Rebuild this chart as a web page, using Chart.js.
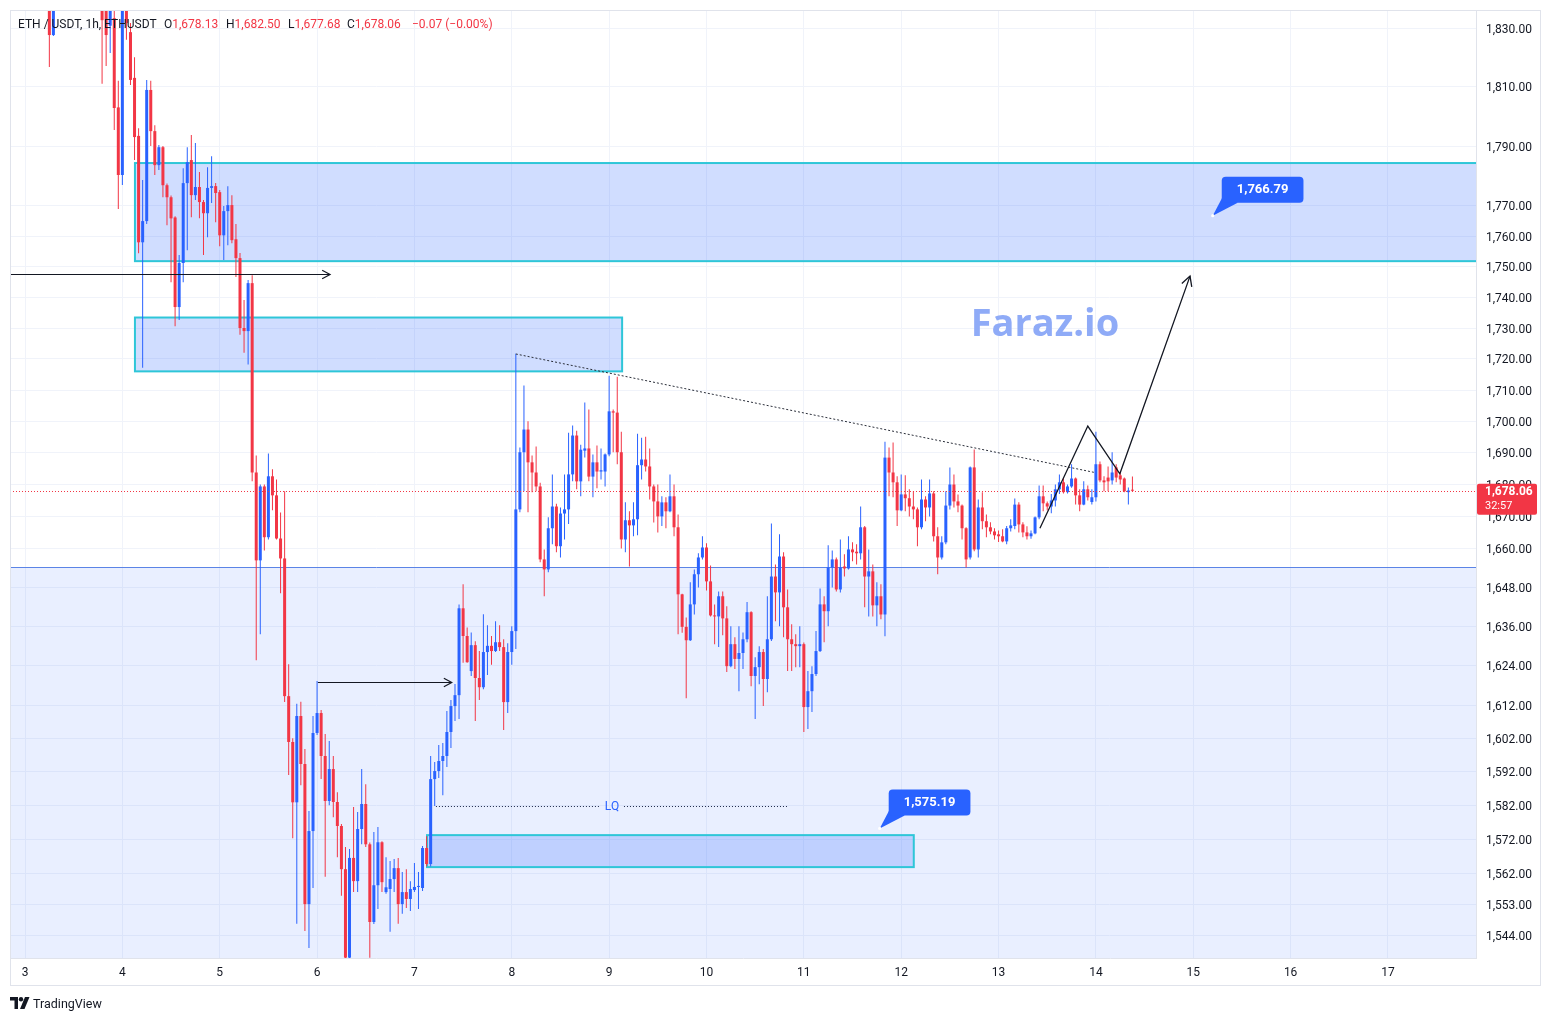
<!DOCTYPE html>
<html>
<head>
<meta charset="utf-8">
<script src="https://cdn.jsdelivr.net/npm/chart.js@4.4.1/dist/chart.umd.min.js"></script>
<style>
  html,body{margin:0;padding:0;background:#fff;width:1551px;height:1021px;overflow:hidden;font-family:Roboto,"Liberation Sans",sans-serif;}
  #wrap{position:relative;width:1551px;height:1021px;}
  #c{position:absolute;left:0;top:0;}
  #frame{position:absolute;left:10px;top:10px;width:1531px;height:976px;border:1px solid #e0e3eb;box-sizing:border-box;pointer-events:none;}
  .hdr{position:absolute;top:17px;font-size:12px;line-height:14px;color:#131722;white-space:nowrap;}
  .r{color:#f23645;}
  #wm{position:absolute;left:945px;top:296px;width:200px;text-align:center;font-family:"Open Sans",sans-serif;font-weight:700;font-size:38px;line-height:50px;color:#8fabf7;white-space:nowrap;}
  #tv{position:absolute;left:10px;top:996px;height:14px;display:flex;align-items:center;font-size:12.5px;color:#131722;}
  #tv svg{margin-right:3px;}
</style>
</head>
<body>
<div id="wrap">
  <canvas id="c" width="1551" height="1021"></canvas>
  <div id="frame"></div>
  <div class="hdr" style="left:18px">ETH / USDT, 1h, ETHUSDT</div>
  <div class="hdr" id="hO" style="left:164px"></div>
  <div class="hdr" id="hH" style="left:226px"></div>
  <div class="hdr" id="hL" style="left:288px"></div>
  <div class="hdr" id="hC" style="left:347px"></div>
  <div class="hdr r" id="hChg" style="left:412px"></div>
  <div id="wm">Faraz.io</div>
  <div id="tv"><svg width="20" height="12" viewBox="0 0 20 12"><path d="M0 0h8v12H4.5V3.4H0z" fill="#131722"/><circle cx="11" cy="2.2" r="2.2" fill="#131722"/><path d="M15 0h4.5l-5 12H10z" fill="#131722"/></svg><span>TradingView</span></div>
</div>
<script>
// ---------- DATA ----------
const firstDay = 3;            // x-axis: hours counted from day 3, 00:00
const firstHour = 6;           // hour index of first value in the OHLC arrays
const open = [
1842,1827.6,null,null,null,null,null,null,null,null,null,null,null,
1842,1840,1830.8,1833.4,1803,1780.3,1840,1828.6,1813,1793.4,1758,1765,1808.9,1795,1783.6,1789.6,1776.9,1772.9,1766.2,1736.8,1751.2,1777.6,1785.3,1773.6,1776.3,1771.3,1767.6,1776,1776.6,1774.6,1760.3,1768.3,1770.3,1759,1752.8,1730,1729,1744.6,
1683.8,1656.3,1679.4,1663.5,1682.6,1676.6,1663.1,1656.9,1614.7,1600.9,1582.9,1608.7,1594.3,1553,1574.4,1603.6,1609.6,1596.7,1583.3,1592.8,1583,1575.9,1563.2,1537.5,1566.5,1559.7,1575,1582.4,1570.5,1547.8,1558.5,1571.1,1556.5,1557.4,1560.3,1563.5,1553,1556.5,1554.5,1557.1,1558,1557.7,1569.4,
1564.7,1589.8,1592.2,1595.2,1596.7,1603.9,1611.7,1615,1641.5,1633,1622.3,1630.2,1620.2,1617.4,1628.1,1630,1628.4,1631.1,1629.6,1612.9,1628.1,1634.5,1672.2,1690.2,1697.4,1687,1683.8,1679.4,1656.6,1653.5,1666.3,1673.1,1660.7,1670.9,1672.2,1683.2,1695.5,1681,1690.7,1691.4,1682.5,1687,1684.1,1684.1,1689.5,1703.2,1702.8,1690.2,1662.8,1668.8,1667.2,
1669.1,1686.1,1687.9,1685.7,1679.4,1674.7,1670,1674.4,1671.6,1676.3,1666.6,1645.8,1635.8,1631.7,1642.7,1652,1657.2,1660.3,1649.8,1639.3,1639,1645.2,1638.4,1623.8,1630.5,1626,1627.8,1632,1640.3,1620.8,1623.5,1628.1,1619.9,1632,1651.3,1646.4,1657.5,1641.8,1632,1630.5,1629.9,1630.5,1611.4,1616.2,1621.4,1628.4,1642.7,1640.6,1654.1,1656.6,
1647.3,1654.4,1653.8,1659.7,1659,1658.5,1666.6,1651.3,1652.9,1642.4,1645.2,1639.6,1688.5,1683.8,1680.7,1671.9,1676.9,1675.7,1673.1,1672.2,1666.6,1675.3,1672.8,1677.2,1663.8,1657.2,1661.9,1673.4,1680,1674.7,1673.4,1666.3,1657.2,1685.4,1659.7,1672.8,1668.5,1666.6,1665.3,1664.4,
1663.8,1662.2,1666.3,1667,1673.7,1667.5,1665,1663.8,1664.7,1669.7,1676.3,1674.1,1673.1,1675,1678.5,1680.7,1677.6,1679.4,1681.9,1676.6,1673.7,1678.5,1674.5,1676,1686.4,1681.3,1682.2,1681.3,1685.4,1682.9,1681.9,1677.6,1678.13
];
const high = [
1846,1845,null,null,null,null,null,null,null,null,null,null,null,
1846,1844,1842,1838,1812,1843,1844,1831.7,1820,1796,1778.6,1812.3,1812,1797,1790.3,1790,1777.5,1773.5,1766.6,1753.8,1782.6,1789.6,1793.7,1791,1781.3,1772,1782.9,1786.6,1777.6,1775.3,1770,1776.6,1773.6,1764,1754.5,1739.1,1745.6,1747.2,
1689.2,1680,1680,1689.8,1684.8,1681.6,1671.2,1677.9,1624.4,1602,1612.4,1613,1598.8,1580.3,1608.7,1619.3,1610.5,1603.3,1601.2,1596.7,1585.9,1576.5,1569.7,1569.1,1581.5,1580,1592.8,1588.3,1571,1574.1,1575.6,1571.4,1566.7,1565.6,1566.2,1566.5,1562.4,1563.2,1559.7,1565,1562.4,1570,1572.9,
1596.7,1594.9,1600,1600.6,1610.2,1613.5,1618.4,1642.7,1648.9,1635.6,1634.1,1631.4,1628.4,1639.7,1636.3,1633,1637.5,1636.3,1632,1630.8,1636,1721.7,1691.7,1711.5,1700,1689.2,1692,1680.6,1659.7,1669.7,1683.2,1674,1672.8,1683.2,1696.4,1698.7,1697,1692.6,1706,1703.8,1689.5,1692.3,1691.4,1689.8,1714.6,1703.8,1714.3,1696.7,1674.4,1671.6,1674.4,
1696.1,1694.8,1695.1,1691.4,1680,1680,1676.3,1676,1683.2,1680,1670.6,1646,1638.7,1649.5,1653.5,1658.5,1663.8,1661.6,1654.7,1642.7,1646.7,1646.7,1642.1,1636,1632.6,1636,1634.1,1643.4,1640.6,1626.5,1629.9,1629,1645.2,1667.8,1655,1664.4,1658.8,1647.3,1636.6,1633.5,1636,1631,1622.3,1623.8,1634.5,1647.6,1645.2,1661,1659.4,1657.2,
1662.8,1658.2,1663.8,1661.9,1661.3,1673.1,1667,1659.7,1655,1649.5,1648.9,1693.5,1691.7,1693.3,1682.6,1683.2,1682.9,1678.5,1677.9,1672.8,1681.6,1676.3,1681.6,1677.9,1666.6,1663.8,1677.9,1685.4,1683.2,1676.9,1673.7,1666.6,1685.7,1691.1,1675.3,1677.6,1670.6,1668.2,1666.3,1665.6,
1666,1667,1669.1,1675.6,1674.4,1668.2,1666.9,1665.6,1670,1679.7,1679.7,1674.7,1677,1680,1683.2,1682.2,1680,1686.4,1682.2,1678.5,1681,1679.7,1678.5,1696.7,1687.3,1682.6,1685.7,1690.2,1686.4,1683.8,1682.2,1679.1,1682.5
];
const low = [
1816.7,1827.3,null,null,null,null,null,null,null,null,null,null,null,
1811,1817,1821.5,1795.4,1769,1777,1826,1810.6,1785.3,1754.4,1717.2,1764,1790,1780.3,1782,1772.9,1763.6,1744.9,1730.6,1732.6,1744.9,1755.4,1766.3,1772,1765.9,1753.8,1759.7,1771,1764.6,1756.7,1752.2,1757,1757.7,1746.6,1727.8,1722,1718.2,1681,
1625.6,1633.5,1659.4,1662.8,1671.9,1662.8,1646.1,1612.9,1591,1572.3,1547.3,1588,1545.2,1540.3,1557.7,1603,1589.8,1561,1582,1578.5,1566.7,1555.4,1534,1533,1556.5,1556.5,1570.5,1569.7,1537.5,1547.2,1551.6,1556.5,1556,1545,1556.5,1547.3,1550.2,1551.9,1551,1556.5,1551.6,1556.8,1564,
1564,1581.8,1590.1,1585,1593.4,1599.1,1607.2,1607.8,1624.8,1624.8,1620.8,1607.2,1613.5,1616.8,1621.1,1624.2,1628.1,1628.4,1604.5,1609.6,1624.2,1629,1671.3,1677.9,1671.3,1677.6,1677.9,1655.7,1645.2,1652.6,1661.3,1658.8,1657.2,1662.8,1667.6,1681,1678.5,1676.3,1688.5,1681,1676,1678.8,1681.6,1679.4,1688.9,1690.2,1686.4,1660,1658.8,1654.4,1663.8,
1664.1,1681.6,1684.1,1675.3,1668.1,1665,1667,1666.3,1671.3,1663.8,1633.5,1634,1614.1,1631.5,1639.6,1647.9,1656.6,1647,1639,1630.5,1629.6,1633.2,1622,1623.5,1622.9,1616.2,1622.9,1631.1,1617.7,1607.8,1618.3,1611.7,1615.9,1631.5,1637.5,1636,1632.6,1622.3,1622.3,1623.5,1623.5,1603.9,1604.8,1609.9,1620.8,1628.1,1631.1,1636,1647.9,1646.7,
1646.4,1651.3,1653.5,1656,1655,1656.6,1641.8,1639,1639,1636,1638.1,1632.9,1676.3,1676,1667,1671.6,1671.6,1670,1669.1,1660.7,1666,1668.5,1670,1662.2,1652,1656.6,1661.3,1672.2,1672.8,1671.3,1662.8,1654.1,1656.6,1659.1,1657.2,1666,1663.5,1664.4,1662.8,1662,
1661.9,1661.3,1665.3,1666,1665,1663.5,1662.8,1663,1664.4,1669.1,1671.6,1671.9,1671,1673.1,1677,1677.2,1677.2,1679,1673.7,1671.6,1673.5,1675,1673.7,1674.7,1680.7,1677.9,1677.9,1680,1680.7,1680,1677.6,1673.7,1677.68
];
const close = [
1827.6,1840,null,null,null,null,null,null,null,null,null,null,null,
1832.7,1827.6,1838,1802.8,1780.3,1840,1831.7,1812.3,1793,1758,1765,1808.9,1795,1783.6,1789.6,1776.9,1772.9,1765.9,1736.8,1751.2,1777.6,1784.6,1773.6,1776.3,1771.3,1767.6,1776,1776.6,1774.3,1760.3,1768.3,1770.3,1758.7,1752.8,1730,1729,1744.6,1683.8,
1656.3,1679.4,1663.5,1682.6,1676.6,1663.1,1656.9,1614.7,1600.9,1582.9,1608.7,1594.3,1553,1574.4,1603.6,1609.6,1596.7,1583.3,1592.8,1583,1575.9,1563.2,1537.5,1566.5,1559.7,1575,1582.4,1570.5,1547.8,1558.5,1571.1,1559.4,1557.9,1560.3,1563.5,1553,1556.5,1554.5,1557.4,1558,1558.3,1569.4,1564.7,
1589.8,1592.2,1595.2,1596.7,1603.9,1611.7,1615,1641.5,1633,1625,1630.2,1620.2,1617.4,1628.1,1630,1628.4,1631.1,1629.6,1612.9,1628.1,1634.5,1672.2,1690.2,1697.4,1687,1683.8,1679.4,1656.6,1653.5,1666.3,1673.1,1660.7,1670.9,1672.2,1683.2,1695.5,1681,1691,1691.4,1682.5,1687,1684.1,1684.5,1689.5,1703.2,1702.8,1690.2,1662.8,1668.8,1667.2,1669.1,
1686.1,1687.9,1685.7,1679.4,1674.7,1670,1674.4,1671.6,1676.3,1666.6,1645.8,1635.8,1631.7,1642.7,1652,1657.2,1660.3,1649.8,1639.3,1639,1645.2,1638.4,1623.8,1630.5,1626,1627.8,1632,1640.3,1620.8,1623.5,1628.1,1619.9,1632,1651.3,1646.4,1657.5,1641.8,1632,1630.5,1629.9,1630.5,1611.4,1616.2,1621.4,1628.4,1642.7,1640.6,1654.1,1656.6,1647.3,
1654.1,1653.8,1659.7,1658.8,1658.5,1666.6,1651.3,1652.9,1642.4,1645.2,1639.6,1688.5,1683.8,1680.7,1671.9,1676.9,1675.7,1673.1,1672.2,1666.6,1675.3,1672.8,1677.2,1663.8,1657.2,1661.9,1673.4,1680,1674.7,1673.4,1666.3,1656.6,1685.4,1659.7,1672.8,1668.5,1666.6,1665.3,1664.1,1663.8,
1662.2,1666.3,1667.2,1673.7,1667.5,1665,1663.8,1664.7,1669.7,1676.3,1674.1,1673.1,1675,1678.5,1680.7,1677.6,1679.4,1681.9,1676.6,1673.7,1678.5,1676,1676,1686.4,1681.3,1680.7,1681,1683.8,1682.2,1681.6,1677.9,1678.13,1678.06
];
const dayTicks = [3,4,5,6,7,8,9,10,11,12,13,14,15,16,17];
const priceTicks = [1830,1810,1790,1770,1760,1750,1740,1730,1720,1710,1700,1690,1680,1670,1660,1648,1636,1624,1612,1602,1592,1582,1572,1562,1553,1544];
const countdown = '32:57';

// drawings (time in hours from day 3 00:00, prices)
const zoneStart = [27.1, 27.1, 99.1];
const zoneEnd   = [null, 147.2, 219.1];     // null = extends right
const zoneLow   = [1751.8, 1716.0, 1563.8];
const zoneHigh  = [1784.3, 1733.4, 1573.2];
const supportTop = 1654.2;                   // wide shaded area below this price
const arrowStart = [[-10, 1747.6], [72.2, 1618.9]];
const arrowEnd   = [[75.2, 1747.6], [105.2, 1618.9]];
const trendHours  = [121.0, 263.7];
const trendPrices = [1721.6, 1683.8];
const lqHours = [101.3, 188.1]; const lqPrice = 1581.7; const lqLabelHour = 144.7;
const pathHours  = [250.2, 262.0, 269.9, 287.2];
const pathPrices = [1666.3, 1698.5, 1683.4, 1746.9];
const noteHours  = [292.8, 210.7];
const notePrices = [1766.79, 1575.19];

// ---------- BUILD ----------
const UP = '#2962ff', DOWN = '#f23645';
const fmt = v => v.toLocaleString('en-US', {minimumFractionDigits:2, maximumFractionDigits:2});
const bodies = [], wicks = [], colors = [];
for (let i = 0; i < open.length; i++) {
  if (open[i] == null) continue;
  const h = firstHour + i;
  bodies.push({x:h, y:[open[i], close[i]]});
  wicks.push({x:h, y:[low[i], high[i]]});
  colors.push(close[i] >= open[i] ? UP : DOWN);
}
const n = close.length;
const lastO = open[n-1], lastH = high[n-1], lastL = low[n-1], lastC = close[n-1], prevC = close[n-2];
const chg = lastC - prevC;
document.getElementById('hO').innerHTML = 'O<span class="r">' + fmt(lastO) + '</span>';
document.getElementById('hH').innerHTML = 'H<span class="r">' + fmt(lastH) + '</span>';
document.getElementById('hL').innerHTML = 'L<span class="r">' + fmt(lastL) + '</span>';
document.getElementById('hC').innerHTML = 'C<span class="r">' + fmt(lastC) + '</span>';
document.getElementById('hChg').textContent = (chg < 0 ? '\u2212' : '+') + Math.abs(chg).toFixed(2) + ' (' + (chg < 0 ? '\u2212' : '+') + Math.abs(chg / prevC * 100).toFixed(2) + '%)';

function arrowHead(ctx, x1, y1, x2, y2, len) {
  const a = Math.atan2(y2 - y1, x2 - x1);
  ctx.beginPath();
  ctx.moveTo(x2 - len * Math.cos(a - 0.5), y2 - len * Math.sin(a - 0.5));
  ctx.lineTo(x2, y2);
  ctx.lineTo(x2 - len * Math.cos(a + 0.5), y2 - len * Math.sin(a + 0.5));
  ctx.stroke();
}
function rr(ctx, x, y, w, h, r) {
  ctx.beginPath();
  ctx.moveTo(x + r, y); ctx.lineTo(x + w - r, y); ctx.quadraticCurveTo(x + w, y, x + w, y + r);
  ctx.lineTo(x + w, y + h - r); ctx.quadraticCurveTo(x + w, y + h, x + w - r, y + h);
  ctx.lineTo(x + r, y + h); ctx.quadraticCurveTo(x, y + h, x, y + h - r);
  ctx.lineTo(x, y + r); ctx.quadraticCurveTo(x, y, x + r, y); ctx.closePath();
}

const drawings = {
  id: 'drawings',
  beforeDatasetsDraw(chart) {
    const {ctx, chartArea: a, scales: {x, y}} = chart;
    ctx.save();
    ctx.beginPath(); ctx.rect(a.left, a.top, a.width, a.height); ctx.clip();
    const st = Math.round(y.getPixelForValue(supportTop)) + 0.5;
    ctx.fillStyle = 'rgba(41,98,255,0.10)';
    ctx.fillRect(a.left, st, a.width, a.bottom - st);
    ctx.strokeStyle = '#5b84e6'; ctx.lineWidth = 1;
    ctx.beginPath(); ctx.moveTo(a.left, st); ctx.lineTo(a.right, st); ctx.stroke();
    for (let i = 0; i < zoneStart.length; i++) {
      const x1 = x.getPixelForValue(zoneStart[i]);
      const x2 = zoneEnd[i] == null ? a.right + 2 : x.getPixelForValue(zoneEnd[i]);
      const y1 = y.getPixelForValue(zoneHigh[i]);
      const y2 = y.getPixelForValue(zoneLow[i]);
      ctx.fillStyle = 'rgba(41,98,255,0.22)';
      ctx.fillRect(x1, y1, x2 - x1, y2 - y1);
      ctx.strokeStyle = '#2ec6d8'; ctx.lineWidth = 2;
      ctx.strokeRect(x1, y1, x2 - x1, y2 - y1);
    }
    ctx.restore();
  },
  afterDatasetsDraw(chart) {
    const {ctx, chartArea: a, scales: {x, y}} = chart;
    ctx.save();
    ctx.beginPath(); ctx.rect(a.left, a.top, a.width, a.height); ctx.clip();
    // current price line (red dotted)
    const yp = Math.round(y.getPixelForValue(lastC)) + 0.5;
    ctx.setLineDash([1, 2]);
    ctx.lineWidth = 1;
    ctx.strokeStyle = 'rgb(242,54,69)';
    ctx.beginPath(); ctx.moveTo(a.left, yp); ctx.lineTo(a.right, yp); ctx.stroke();
    // trendline
    ctx.strokeStyle = '#2a2e39'; ctx.setLineDash([2, 2]);
    ctx.beginPath();
    ctx.moveTo(x.getPixelForValue(trendHours[0]), y.getPixelForValue(trendPrices[0]));
    ctx.lineTo(x.getPixelForValue(trendHours[1]), y.getPixelForValue(trendPrices[1]));
    ctx.stroke();
    // LQ
    const lqY = Math.round(y.getPixelForValue(lqPrice)) + 0.5;
    const lqX = x.getPixelForValue(lqLabelHour);
    ctx.strokeStyle = '#1e2a4a'; ctx.setLineDash([1, 2]);
    ctx.beginPath();
    ctx.moveTo(x.getPixelForValue(lqHours[0]), lqY); ctx.lineTo(lqX - 12, lqY);
    ctx.moveTo(lqX + 12, lqY); ctx.lineTo(x.getPixelForValue(lqHours[1]), lqY);
    ctx.stroke();
    ctx.setLineDash([]);
    ctx.fillStyle = '#2962ff'; ctx.font = '12px Roboto'; ctx.textAlign = 'center'; ctx.textBaseline = 'middle';
    ctx.fillText('LQ', lqX, lqY);
    ctx.strokeStyle = '#131722'; ctx.lineWidth = 1.2;
    for (let i = 0; i < arrowStart.length; i++) {
      const x1 = x.getPixelForValue(arrowStart[i][0]), y1 = Math.round(y.getPixelForValue(arrowStart[i][1])) + 0.5;
      const x2 = x.getPixelForValue(arrowEnd[i][0]), y2 = Math.round(y.getPixelForValue(arrowEnd[i][1])) + 0.5;
      ctx.beginPath(); ctx.moveTo(x1, y1); ctx.lineTo(x2, y2); ctx.stroke();
      arrowHead(ctx, x1, y1, x2, y2, 9);
    }
    ctx.lineWidth = 1.3;
    ctx.beginPath();
    for (let i = 0; i < pathHours.length; i++) {
      const px = x.getPixelForValue(pathHours[i]), py = y.getPixelForValue(pathPrices[i]);
      if (i === 0) ctx.moveTo(px, py); else ctx.lineTo(px, py);
    }
    ctx.stroke();
    const k = pathHours.length - 1;
    arrowHead(ctx, x.getPixelForValue(pathHours[k-1]), y.getPixelForValue(pathPrices[k-1]),
              x.getPixelForValue(pathHours[k]), y.getPixelForValue(pathPrices[k]), 11);
    for (let i = 0; i < noteHours.length; i++) {
      const ax = x.getPixelForValue(noteHours[i]), ay = y.getPixelForValue(notePrices[i]);
      ctx.font = 'bold 13px Roboto';
      const txt = fmt(notePrices[i]);
      const bw = ctx.measureText(txt).width + 30, bh = 26;
      const bx = ax + 9, by = ay - 13 - bh;
      ctx.fillStyle = '#2962ff';
      ctx.beginPath(); ctx.moveTo(bx + 2, by + bh - 8); ctx.lineTo(ax, ay); ctx.lineTo(bx + 16, by + bh); ctx.closePath(); ctx.fill();
      rr(ctx, bx, by, bw, bh, 4); ctx.fill();
      ctx.fillStyle = '#ffffff'; ctx.textAlign = 'center'; ctx.textBaseline = 'middle';
      ctx.fillText(txt, bx + bw / 2, by + bh / 2 + 0.5);
      ctx.beginPath(); ctx.arc(ax, ay, 1.6, 0, Math.PI * 2); ctx.fillStyle = '#ffffff'; ctx.fill();
    }
    ctx.restore();
  },
  afterDraw(chart) {
    const {ctx, chartArea: a, scales: {y}} = chart;
    const yp = y.getPixelForValue(lastC);
    ctx.save();
    ctx.fillStyle = lastC >= lastO ? UP : DOWN;
    rr(ctx, a.right + 1, yp - 7, 60, 31, 2); ctx.fill();
    ctx.fillStyle = '#ffffff'; ctx.textAlign = 'left'; ctx.textBaseline = 'middle';
    ctx.font = 'bold 12px Roboto';
    ctx.fillText(fmt(lastC), a.right + 9, yp + 1.5);
    ctx.font = '11px Roboto';
    ctx.fillText(countdown, a.right + 9, yp + 16);
    ctx.restore();
  }
};

new Chart(document.getElementById('c'), {
  type: 'bar',
  data: { datasets: [
    { data: bodies, backgroundColor: colors, barThickness: 3, grouped: false, minBarLength: 1, borderWidth: 0, inflateAmount: 0, order: 0 },
    { data: wicks,  backgroundColor: colors, barThickness: 1, grouped: false, borderWidth: 0, inflateAmount: 0, order: 1 }
  ]},
  options: {
    responsive: false, animation: false, events: [], devicePixelRatio: 1,
    layout: { padding: { left: 10, top: 10, right: 11, bottom: 36 } },
    plugins: { legend: { display: false }, tooltip: { enabled: false } },
    scales: {
      x: {
        type: 'linear', min: -3.7, max: 357.7, bounds: 'data', offset: false,
        grid: { color: '#f0f3fa', drawTicks: false, offset: false },
        border: { color: '#e0e3eb' },
        afterBuildTicks: s => { s.ticks = dayTicks.map(d => ({ value: (d - firstDay) * 24 })); },
        ticks: { callback: v => String(firstDay + v / 24), font: { family: 'Roboto', size: 12 }, color: '#131722', padding: 8, maxRotation: 0, autoSkip: false },
        afterFit: s => { s.height = 27; s.paddingLeft = 0; s.paddingRight = 0; }
      },
      y: {
        type: 'logarithmic', position: 'right', min: 1537.4, max: 1836.2, bounds: 'data',
        grid: { color: '#f0f3fa', drawTicks: false },
        border: { color: '#e0e3eb' },
        afterBuildTicks: s => { s.ticks = priceTicks.map(v => ({ value: v })); },
        ticks: { callback: v => fmt(v), font: { family: 'Roboto', size: 12 }, color: '#131722', padding: 10, autoSkip: false, labelOffset: 1.5 },
        afterFit: s => { s.width = 64; s.paddingTop = 0; s.paddingBottom = 0; }
      }
    }
  },
  plugins: [drawings]
});
</script>
</body>
</html>
